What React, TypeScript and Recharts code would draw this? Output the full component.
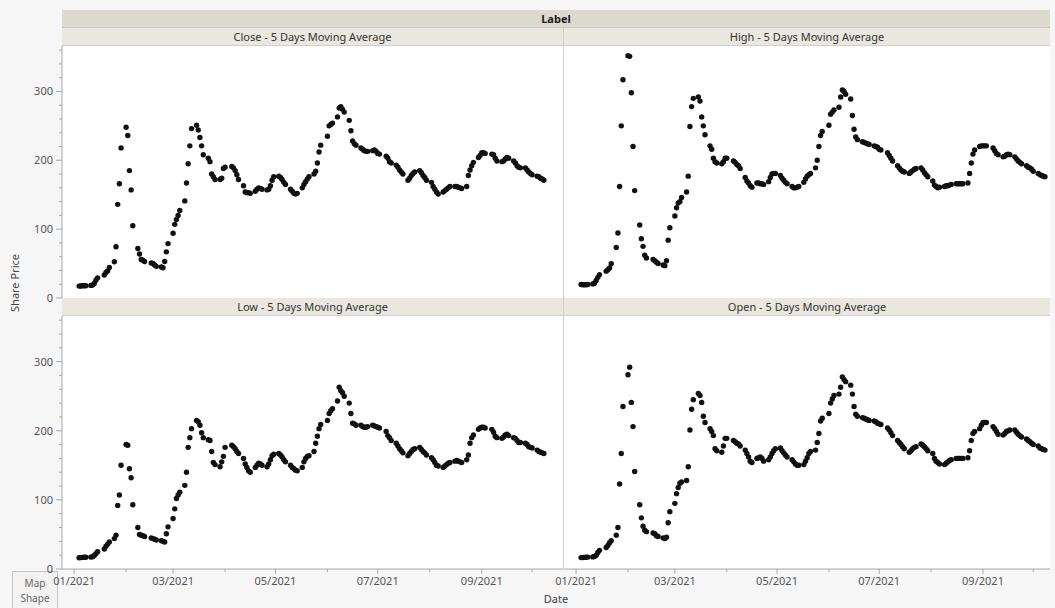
import React from "react";
import { ScatterChart, Scatter, XAxis, YAxis } from "recharts";

// trading days, as day offsets from 01/01/2021
const tradeDays = [
  3, 4, 5, 6, 7, 10, 11, 12, 13, 14, 18, 19, 20, 21, 24, 25, 26, 27, 28,
  31, 32, 33, 34, 35, 38, 39, 40, 41, 42, 46, 47, 48, 49, 52, 53, 54, 55, 56,
  59, 60, 61, 62, 63, 66, 67, 68, 69, 70, 73, 74, 75, 76, 77, 80, 81, 82, 83, 84, 87, 88, 89,
  90, 94, 95, 96, 97, 98, 101, 102, 103, 104, 105, 108, 109, 110, 111, 112, 115, 116, 117, 118, 119,
  122, 123, 124, 125, 126, 129, 130, 131, 132, 133, 136, 137, 138, 139, 140, 143, 144, 145, 146, 147,
  151, 152, 153, 154, 157, 158, 159, 160, 161, 164, 165, 166, 167, 168, 171, 172, 173, 174, 175, 178, 179, 180,
  181, 182, 186, 187, 188, 189, 192, 193, 194, 195, 196, 199, 200, 201, 202, 203, 206, 207, 208, 209, 210,
  213, 214, 215, 216, 217, 220, 221, 222, 223, 224, 227, 228, 229, 230, 231, 234, 235, 236, 237, 238, 241, 242,
  243, 244, 245, 249, 250, 251, 252, 255, 256, 257, 258, 259, 262, 263, 264, 265, 266, 269, 270, 271, 272,
  273, 276, 277, 278, 279, 280,
];

const closeAvg = [
  17.3, 17.4, 17.7, 17.8, 17.8, 18.3, 18.7, 21.2, 25.8, 29.3, 33.3, 37.2, 39.4, 44.4, 52.7, 74.4, 136, 166, 218,
  248, 236, 185, 157, 105, 72, 64, 56, 55, 53, 51, 50, 48, 46, 45, 44, 53, 67, 79,
  94, 107, 114, 120, 127, 141, 167, 195, 221, 246, 251, 244, 233, 221, 208, 203, 198, 180, 176, 172, 172, 174, 188,
  190, 191, 189, 185, 179, 172, 163, 154, 153, 153, 152, 155, 158, 160, 159, 158, 157, 158, 163, 171, 176,
  177, 175, 172, 168, 165, 158, 155, 152, 151, 152, 160, 165, 169, 173, 176, 180, 184, 196, 212, 222,
  235, 250, 252, 254, 263, 276, 278, 274, 270, 258, 243, 228, 224, 222, 218, 216, 214, 213, 213, 214, 215, 213,
  210, 209, 206, 203, 198, 196, 193, 190, 186, 183, 180, 171, 174, 178, 181, 183, 185, 182, 178, 175, 171,
  168, 162, 158, 154, 151, 154, 156, 158, 160, 162, 162, 162, 161, 160, 159, 162, 178, 186, 192, 197, 204, 207,
  211, 211, 210, 209, 208, 203, 199, 198, 199, 202, 204, 203, 199, 196, 192, 190, 189, 189, 186, 183, 181,
  179, 177, 176, 174, 173, 171,
];

const highAvg = [
  19.5, 19.3, 19.2, 19.3, 19.6, 20.5, 21.5, 25.5, 30, 34, 39, 41, 43.5, 49.8, 73.5, 94.4, 162, 250, 317,
  352, 351, 298, 220, 156, 106, 86, 75, 62, 58, 56, 54, 52, 50, 48, 47, 54, 84, 102,
  119, 131, 138, 140, 146, 154, 177, 249, 278, 290, 292, 286, 263, 250, 237, 221, 216, 203, 198, 196, 195, 198, 203,
  203, 199, 197, 194, 192, 188, 175, 170, 167, 163, 161, 167, 167, 166, 166, 165, 169, 175, 180, 181, 181,
  178, 174, 171, 168, 166, 162, 160, 160, 161, 162, 168, 173, 177, 179, 181, 189, 200, 220, 236, 242,
  251, 267, 270, 273, 277, 292, 302, 300, 296, 289, 265, 245, 234, 230, 227, 226, 225, 224, 223, 221, 220, 219,
  216, 215, 211, 207, 203, 199, 192, 189, 186, 184, 183, 181, 183, 185, 187, 188, 189, 186, 182, 179, 176,
  170, 164, 162, 160, 161, 162, 163, 163, 164, 165, 166, 166, 166, 166, 166, 167, 181, 196, 209, 215, 220, 221,
  221, 221, 221, 218, 214, 210, 208, 205, 206, 208, 209, 208, 205, 202, 199, 197, 195, 192, 190, 189, 187,
  184, 181, 179, 178, 177, 176,
];

const lowAvg = [
  16.3, 16.5, 16.8, 17, 17, 17.2, 17.8, 19.5, 22, 25, 29, 33, 36, 39, 44, 49, 92, 107, 150,
  180, 179, 145, 132, 93, 60, 50, 49, 48, 47, 45, 44, 43, 42, 41, 40, 39, 51, 61,
  73, 87, 102, 107, 111, 121, 140, 176, 190, 203, 215, 213, 208, 197, 190, 187, 186, 170, 154, 151, 148, 155, 163,
  176, 179, 177, 174, 170, 167, 160, 152, 147, 142, 140, 147, 150, 153, 152, 150, 148, 152, 158, 164, 166,
  167, 165, 162, 158, 155, 150, 147, 145, 143, 142, 147, 155, 160, 163, 164, 170, 182, 192, 203, 209,
  215, 225, 229, 232, 243, 263, 258, 255, 250, 240, 225, 211, 210, 208, 208, 206, 205, 205, 206, 208, 207, 206,
  205, 204, 199, 193, 190, 186, 182, 178, 174, 171, 168, 164, 167, 170, 173, 174, 176, 173, 170, 168, 165,
  161, 158, 154, 150, 149, 147, 149, 151, 153, 154, 156, 157, 156, 155, 154, 158, 165, 182, 190, 194, 202, 204,
  205, 205, 204, 202, 198, 192, 190, 189, 191, 194, 195, 193, 190, 189, 186, 183, 183, 182, 180, 177, 176,
  175, 172, 170, 169, 168, 167,
];

const openAvg = [
  16.5, 16.6, 16.8, 17, 17.2, 17.5, 18.2, 20, 24, 27, 31, 34, 38, 41, 49, 60, 123, 167, 235,
  281, 292, 241, 206, 141, 93, 74, 62, 56, 54, 52, 51, 48, 47, 45, 44, 46, 67, 83,
  95, 109, 118, 124, 126, 128, 148, 201, 231, 245, 254, 251, 241, 221, 212, 203, 199, 193, 174, 171, 169, 178, 189,
  189, 186, 184, 182, 181, 178, 172, 167, 162, 156, 154, 160, 161, 162, 160, 156, 158, 162, 167, 171, 174,
  175, 171, 168, 165, 162, 158, 155, 152, 150, 150, 151, 156, 161, 167, 170, 172, 183, 196, 214, 218,
  225, 240, 246, 251, 253, 263, 278, 274, 271, 266, 253, 235, 224, 221, 219, 218, 217, 216, 215, 214, 213, 211,
  210, 209, 204, 201, 197, 193, 186, 183, 180, 177, 174, 169, 171, 174, 176, 177, 181, 179, 177, 174, 171,
  167, 160, 156, 154, 152, 151, 153, 155, 157, 158, 160, 160, 160, 160, 160, 161, 171, 186, 196, 199, 203, 208,
  212, 212, 212, 206, 203, 199, 195, 194, 196, 199, 200, 201, 201, 198, 195, 193, 191, 188, 186, 184, 182,
  180, 178, 175, 174, 173, 172,
];

const panelTitles = [
  "Close - 5 Days Moving Average",
  "High - 5 Days Moving Average",
  "Low - 5 Days Moving Average",
  "Open - 5 Days Moving Average",
];

const monthStarts = [0, 31, 59, 90, 120, 151, 181, 212, 243, 273];
const monthLabels = ["01/2021", "", "03/2021", "", "05/2021", "", "07/2021", "", "09/2021", ""];
const priceTicks = [0, 20, 40, 60, 80, 100, 120, 140, 160, 180, 200, 220, 240, 260, 280, 300, 320, 340, 360];

const FONT = "'Noto Sans', 'Open Sans', sans-serif";
const AXIS_GRAY = "#a8a8a8";

const toRows = (vals: number[]) => tradeDays.map((d, i) => ({ d, v: vals[i] }));

const Dot = (props: any) => <circle cx={props.cx} cy={props.cy} r={2.7} fill="#111" />;

const PriceTick = ({ x, y, payload }: any) => {
  const major = payload.value % 100 === 0;
  return (
    <g>
      <line x1={x - (major ? 6 : 3)} x2={x} y1={y} y2={y} stroke={AXIS_GRAY} />
      {major && (
        <text x={x - 9} y={y} dy={4} textAnchor="end" fontSize={11} fill="#555" fontFamily={FONT}>
          {payload.value}
        </text>
      )}
    </g>
  );
};

const DateTick = ({ x, y, payload }: any) => {
  const label = monthLabels[monthStarts.indexOf(payload.value)];
  return (
    <g>
      <line x1={x} x2={x} y1={y} y2={y + (label ? 5 : 3)} stroke={AXIS_GRAY} />
      {label && (
        <text x={x} y={y + 16} textAnchor="middle" fontSize={11} fill="#555" fontFamily={FONT}>
          {label}
        </text>
      )}
    </g>
  );
};

interface PanelProps {
  values: number[];
  left: number;
  top: number;
  width: number;
  height: number;
  margin: { top: number; right: number; bottom: number; left: number };
  xDomain: [number, number];
  showY: boolean;
  showX: boolean;
}

const Panel = ({ values, left, top, width, height, margin, xDomain, showY, showX }: PanelProps) => (
  <div style={{ position: "absolute", left, top }}>
    <ScatterChart width={width} height={height} margin={margin}>
      <XAxis
        type="number"
        dataKey="d"
        domain={xDomain}
        allowDataOverflow
        ticks={monthStarts}
        hide={!showX}
        height={26}
        tickSize={0}
        tickMargin={0}
        tickLine={false}
        axisLine={{ stroke: AXIS_GRAY }}
        tick={<DateTick />}
        interval={0}
      />
      <YAxis
        type="number"
        dataKey="v"
        domain={[0, 366]}
        allowDataOverflow
        ticks={priceTicks}
        hide={!showY}
        width={62}
        tickSize={0}
        tickMargin={0}
        tickLine={false}
        axisLine={{ stroke: AXIS_GRAY }}
        tick={<PriceTick />}
        interval={0}
      />
      <Scatter data={toRows(values)} shape={Dot} isAnimationActive={false} />
    </ScatterChart>
  </div>
);

const headerStyle = (left: number, top: number, width: number): React.CSSProperties => ({
  position: "absolute",
  left,
  top,
  width,
  height: 18,
  background: "#e9e7df",
  borderBottom: "1px solid #d2d0c6",
  boxSizing: "border-box",
  textAlign: "center",
  fontSize: 11,
  lineHeight: "17px",
  color: "#333",
});

const plotBg = (left: number, top: number, width: number, height: number): React.CSSProperties => ({
  position: "absolute",
  left,
  top,
  width,
  height,
  background: "#ffffff",
});

const LEFT_DOMAIN: [number, number] = [-7.2, 291.4];
const RIGHT_DOMAIN: [number, number] = [-7.2, 283];

export default function App() {
  return (
    <div
      style={{
        position: "absolute",
        left: 0,
        top: 0,
        width: 1055,
        height: 608,
        overflow: "hidden",
        background: "#f6f6f6",
        fontFamily: FONT,
      }}
    >
      {/* plot backgrounds */}
      <div style={plotBg(62, 46, 501, 252)} />
      <div style={plotBg(564, 46, 486, 252)} />
      <div style={plotBg(62, 316, 501, 253)} />
      <div style={plotBg(564, 316, 486, 253)} />
      <div style={{ position: "absolute", left: 563, top: 28, width: 1, height: 541, background: "#cfcfcf" }} />

      <div
        style={{
          position: "absolute",
          left: 12,
          top: 571,
          width: 46,
          height: 40,
          border: "1px solid #c4c4c4",
          boxSizing: "border-box",
          background: "#f3f3f3",
          textAlign: "center",
          fontSize: 10,
          lineHeight: "15px",
          paddingTop: 4,
          color: "#666",
        }}
      >
        Map
        <br />
        Shape
      </div>

      {/* header strips */}
      <div
        style={{
          position: "absolute",
          left: 62,
          top: 10,
          width: 988,
          height: 18,
          background: "#dcdacf",
          borderBottom: "1px solid #cbc9bd",
          boxSizing: "border-box",
          textAlign: "center",
          fontSize: 11,
          fontWeight: 700,
          lineHeight: "17px",
          color: "#222",
        }}
      >
        Label
      </div>
      <div style={headerStyle(62, 28, 501)}>{panelTitles[0]}</div>
      <div style={headerStyle(564, 28, 486)}>{panelTitles[1]}</div>
      <div style={headerStyle(62, 298, 501)}>{panelTitles[2]}</div>
      <div style={headerStyle(564, 298, 486)}>{panelTitles[3]}</div>

      <Panel
        values={closeAvg}
        left={0}
        top={46}
        width={563}
        height={262}
        margin={{ top: 0, right: 0, bottom: 10, left: 0 }}
        xDomain={LEFT_DOMAIN}
        showY
        showX={false}
      />
      <Panel
        values={highAvg}
        left={540}
        top={46}
        width={510}
        height={262}
        margin={{ top: 0, right: 0, bottom: 10, left: 24 }}
        xDomain={RIGHT_DOMAIN}
        showY={false}
        showX={false}
      />
      <Panel
        values={lowAvg}
        left={0}
        top={316}
        width={563}
        height={279}
        margin={{ top: 0, right: 0, bottom: 0, left: 0 }}
        xDomain={LEFT_DOMAIN}
        showY
        showX
      />
      <Panel
        values={openAvg}
        left={540}
        top={316}
        width={510}
        height={279}
        margin={{ top: 0, right: 0, bottom: 0, left: 24 }}
        xDomain={RIGHT_DOMAIN}
        showY={false}
        showX
      />

      {/* axis titles */}
      <div
        style={{
          position: "absolute",
          left: 14,
          top: 283,
          transform: "translate(-50%, -50%) rotate(-90deg)",
          whiteSpace: "nowrap",
          fontSize: 11,
          color: "#444",
        }}
      >
        Share Price
      </div>
      <div
        style={{
          position: "absolute",
          left: 556,
          top: 598,
          transform: "translate(-50%, -50%)",
          fontSize: 11,
          color: "#444",
        }}
      >
        Date
      </div>
    </div>
  );
}
